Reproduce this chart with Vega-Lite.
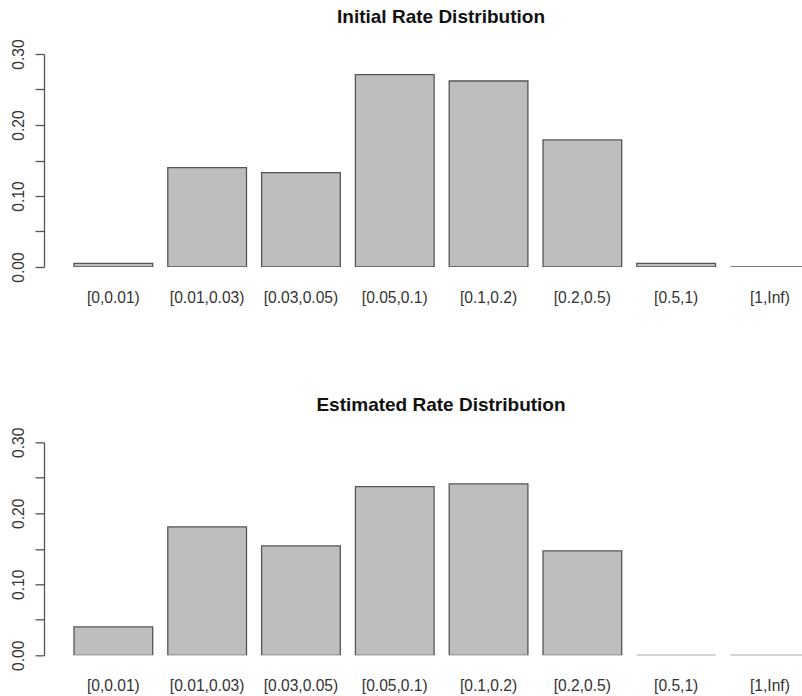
{
  "$schema": "https://vega.github.io/schema/vega-lite/v6.json",
  "padding": {"left": 11, "top": 7, "right": 0, "bottom": 0},
  "background": "white",
  "datasets": {
    "initial": [
      {"bin": "[0,0.01)", "share": 0.005},
      {"bin": "[0.01,0.03)", "share": 0.140},
      {"bin": "[0.03,0.05)", "share": 0.133},
      {"bin": "[0.05,0.1)", "share": 0.271},
      {"bin": "[0.1,0.2)", "share": 0.262},
      {"bin": "[0.2,0.5)", "share": 0.179},
      {"bin": "[0.5,1)", "share": 0.005},
      {"bin": "[1,Inf)", "share": 0}
    ],
    "estimated": [
      {"bin": "[0,0.01)", "share": 0.040},
      {"bin": "[0.01,0.03)", "share": 0.181},
      {"bin": "[0.03,0.05)", "share": 0.154},
      {"bin": "[0.05,0.1)", "share": 0.2375},
      {"bin": "[0.1,0.2)", "share": 0.2415},
      {"bin": "[0.2,0.5)", "share": 0.147},
      {"bin": "[0.5,1)", "share": 0},
      {"bin": "[1,Inf)", "share": 0}
    ]
  },
  "config": {
    "view": {"stroke": null},
    "font": "Liberation Sans",
    "title": {"font": "Liberation Sans", "fontSize": 19, "fontWeight": "bold", "color": "#111", "anchor": "middle", "baseline": "alphabetic", "offset": 12, "dx": 18, "frame": "group"},
    "axis": {"labelFont": "Liberation Sans", "labelFontSize": 15.6, "labelColor": "#333", "grid": false, "title": null}
  },
  "bounds": "flush",
  "spacing": 175.3,
  "vconcat": [
    {
      "title": "Initial Rate Distribution",
      "width": 758,
      "height": 213,
      "data": {"name": "initial"},
      "mark": {"type": "bar", "fill": "#bebebe", "stroke": "#555", "strokeWidth": 1.3, "clip": true},
      "encoding": {
        "x": {"field": "bin", "type": "nominal", "sort": null,
          "scale": {"range": [0, 795.3], "paddingInner": 0.161, "paddingOuter": 0.3198},
          "axis": {"orient": "bottom", "domain": false, "ticks": false, "tickSize": 0, "labelPadding": 30, "labelBaseline": "middle", "labelAngle": 0}},
        "y": {"field": "share", "type": "quantitative",
          "scale": {"domain": [0, 0.3], "nice": false, "zero": true},
          "axis": {"values": [0, 0.05, 0.1, 0.15, 0.2, 0.25, 0.3], "labelExpr": "(round(datum.value*100) % 10 === 0) ? format(datum.value, '.2f') : ''", "domainColor": "#555", "domainWidth": 1.3, "tickColor": "#555", "tickWidth": 1.3, "tickSize": 9, "labelPadding": 12, "labelAngle": -90, "labelAlign": "center", "labelBaseline": "alphabetic"}}
      }
    },
    {
      "title": "Estimated Rate Distribution",
      "width": 758,
      "height": 213,
      "data": {"name": "estimated"},
      "mark": {"type": "bar", "fill": "#bebebe", "stroke": "#555", "strokeWidth": 1.3, "clip": true},
      "encoding": {
        "x": {"field": "bin", "type": "nominal", "sort": null,
          "scale": {"range": [0, 795.3], "paddingInner": 0.161, "paddingOuter": 0.3198},
          "axis": {"orient": "bottom", "domain": false, "ticks": false, "tickSize": 0, "labelPadding": 30, "labelBaseline": "middle", "labelAngle": 0}},
        "y": {"field": "share", "type": "quantitative",
          "scale": {"domain": [0, 0.3], "nice": false, "zero": true},
          "axis": {"values": [0, 0.05, 0.1, 0.15, 0.2, 0.25, 0.3], "labelExpr": "(round(datum.value*100) % 10 === 0) ? format(datum.value, '.2f') : ''", "domainColor": "#555", "domainWidth": 1.3, "tickColor": "#555", "tickWidth": 1.3, "tickSize": 9, "labelPadding": 12, "labelAngle": -90, "labelAlign": "center", "labelBaseline": "alphabetic"}}
      }
    }
  ]
}
